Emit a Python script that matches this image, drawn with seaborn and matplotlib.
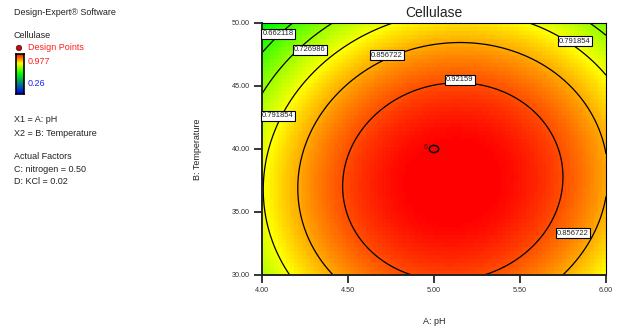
import numpy as np
import matplotlib
matplotlib.use("Agg")
import matplotlib.pyplot as plt
from matplotlib.patches import Ellipse
from matplotlib.path import Path
import seaborn as sns
from matplotlib.colors import LinearSegmentedColormap

# ---- data ----
# quadratic response-surface model in coded units: a = pH - 5, b = (T - 40) / 10
coef_const = 0.97823
coef_a = 0.03855
coef_b = -0.05716
coef_aa = -0.16166
coef_bb = -0.10773
coef_ab = 0.01234

ph_range = [4.0, 6.0]
temp_range = [30.0, 50.0]
contour_levels = [0.662118, 0.726986, 0.791854, 0.856722, 0.92159]
label_levels = [0.662118, 0.726986, 0.791854, 0.791854, 0.856722, 0.856722, 0.92159]
label_ph = [4.093, 4.279, 4.093, 5.820, 4.727, 5.808, 5.151]
label_temp = [49.13, 47.86, 42.62, 48.57, 47.46, 33.33, 45.48]
x_ticks = [4.00, 4.50, 5.00, 5.50, 6.00]
y_ticks = [30.00, 35.00, 40.00, 45.00, 50.00]
design_ph = [5.0]
design_temp = [40.0]
design_count = ["6"]
color_low, color_high = 0.26, 0.977

sns.set_style("white")
plt.rcParams["font.family"] = ["Liberation Sans", "DejaVu Sans"]

cmap = LinearSegmentedColormap.from_list(
    "de", [(0.0, (0, 0, 1)), (0.5, (0, 1, 0)), (0.75, (1, 1, 0)), (1.0, (1, 0, 0))])

fig = plt.figure(figsize=(6.21, 3.31), dpi=100)
ax = fig.add_axes([262 / 621, 1 - 275 / 331, 344 / 621, 252 / 331])

def model(ph, t):
    a = ph - 5.0
    b = (t - 40.0) / 10.0
    return (coef_const + coef_a * a + coef_b * b + coef_aa * a * a
            + coef_bb * b * b + coef_ab * a * b)

# coarse colour cells like the reference
nx, ny = 86, 63
xe = np.linspace(ph_range[0], ph_range[1], nx + 1)
ye = np.linspace(temp_range[0], temp_range[1], ny + 1)
xc = (xe[:-1] + xe[1:]) / 2
yc = (ye[:-1] + ye[1:]) / 2
Zc = model(*np.meshgrid(xc, yc))
ax.pcolormesh(xe, ye, Zc, cmap=cmap, vmin=color_low, vmax=color_high,
              shading="flat", rasterized=True)

xf = np.linspace(ph_range[0], ph_range[1], 300)
yf = np.linspace(temp_range[0], temp_range[1], 300)
XF, YF = np.meshgrid(xf, yf)
cs = ax.contour(XF, YF, model(XF, YF), levels=contour_levels, colors="k",
                linewidths=0.9)
for lv, lx, ly in zip(label_levels, label_ph, label_temp):
    ax.text(lx, ly, f"{lv:.6g}", fontsize=5.5, ha="center", va="center",
            color="#222222", zorder=5,
            bbox=dict(facecolor="white", edgecolor="black", linewidth=0.8,
                      boxstyle="square,pad=0.18"))

# design point (open ellipse) with replicate count
theta = np.linspace(0, 2 * np.pi, 40)
ell_marker = Path(np.column_stack([1.3 * np.cos(theta), np.sin(theta)]), closed=True)
sns.scatterplot(x=design_ph, y=design_temp, ax=ax, marker=ell_marker, s=45,
                facecolor="none", edgecolor="black", linewidth=1.1, legend=False,
                zorder=6)
for px, py, n in zip(design_ph, design_temp, design_count):
    ax.text(px - 0.035, py + 0.1, n, fontsize=5, ha="right", va="center",
            color="#222222")

ax.set_xlim(*ph_range)
ax.set_ylim(*temp_range)
ax.set_xticks(x_ticks)
ax.set_yticks(y_ticks)
ax.set_xticklabels([f"{v:.2f}" for v in x_ticks])
ax.set_yticklabels([f"{v:.2f}" for v in y_ticks])
ax.tick_params(axis="both", direction="out", length=6, width=1.1,
               labelsize=5.2, colors="black", labelcolor="#333333", pad=3,
               bottom=True, left=True)
for side in ["top", "right"]:
    ax.spines[side].set_linewidth(0.8)
    ax.spines[side].set_color("black")
for side in ["left", "bottom"]:
    ax.spines[side].set_linewidth(1.4)
    ax.spines[side].set_color("#222222")

ax.set_title("Cellulase", fontsize=10, color="#222222", pad=4)
ax.set_xlabel("A: pH", fontsize=6.5, color="#222222")
ax.set_ylabel("B: Temperature", fontsize=6.5, color="#222222")
ax.xaxis.label.set_va("center")
ax.yaxis.label.set_va("center")
ax.xaxis.set_label_coords(0.5, -(322 - 275) / 252)
ax.yaxis.set_label_coords((197 - 262) / 344, 0.5)

# left-hand information panel
def ftext(xp, yp, s, color="#222222"):
    fig.text(xp / 621, 1 - yp / 331, s, fontsize=6.5, color=color,
             ha="left", va="center")

ftext(14, 12.7, "Design-Expert® Software")
ftext(14, 36, "Cellulase")
ftext(28, 48, "Design Points", color="#ff2020")
ftext(28, 61, f"{color_high:g}", color="#ff2020")
ftext(28, 84, f"{color_low:g}", color="#2020ff")
ftext(14, 120, "X1 = A: pH")
ftext(14, 133, "X2 = B: Temperature")
ftext(14, 157, "Actual Factors")
ftext(14, 169, "C: nitrogen = 0.50")
ftext(14, 181, "D: KCl = 0.02")
fig.add_artist(Ellipse((19 / 621, 1 - 48 / 331), 5.4 / 621, 5.4 / 331,
                       transform=fig.transFigure, facecolor="#dd0000",
                       edgecolor="#333333", linewidth=0.6))

cax = fig.add_axes([16 / 621, 1 - 94 / 331, 8 / 621, 40 / 331])
grad = np.linspace(0, 1, 100).reshape(-1, 1)
cax.imshow(grad, aspect="auto", cmap=cmap, origin="lower")
cax.set_xticks([])
cax.set_yticks([])
for s in cax.spines.values():
    s.set_linewidth(1.2)
    s.set_color("black")

fig.savefig("out.png", dpi=100)
